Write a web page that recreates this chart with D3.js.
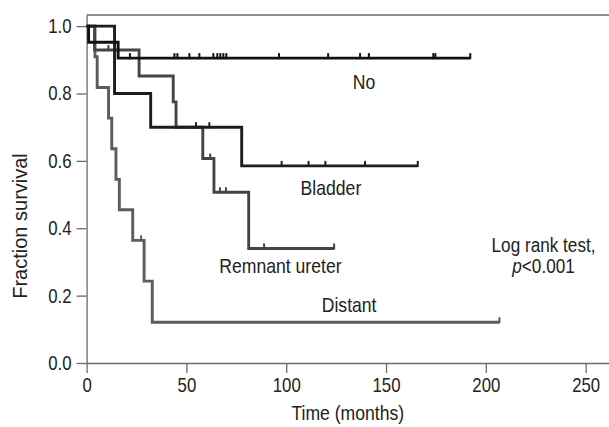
<!doctype html>
<html>
  <head>
    <meta charset="utf-8">
    <title>Fraction survival by recurrence site</title>
    <script src="https://cdnjs.cloudflare.com/ajax/libs/d3/7.8.5/d3.min.js"></script>
    <style>
      body { margin: 0; background: #fff; }
      svg text { font-family: "Liberation Sans", Arial, sans-serif; fill: #222; }
    </style>
  </head>
  <body>
    <div id="chart"></div>
    <script>
      // step times (months) and survival after each step
      const noTimes = [0, 1, 15.8];
      const noSurv = [1, 0.952, 0.905];
      const noCensor = [21.7, 44, 45.5, 51.5, 56.5, 63.5, 65.5, 67, 68.5, 70, 96.4, 121, 137, 141.4, 173.7, 174.7, 192.2];

      const bladderTimes = [0, 14, 32.1, 77.7];
      const bladderSurv = [1, 0.8, 0.7, 0.585];
      const bladderCensor = [54.8, 61.5, 97.7, 111.2, 119.6, 139.5, 165.9];

      const remnantTimes = [0, 4, 26.3, 43.4, 44.8, 58.2, 63.8, 81.2];
      const remnantSurv = [1, 0.929, 0.852, 0.775, 0.7, 0.607, 0.507, 0.34];
      const remnantCensor = [10.9, 61.9, 66.8, 69.8, 88.9, 124];

      const distantTimes = [0, 4.2, 5.3, 11, 12.6, 14.7, 16.4, 23.1, 28.8, 32.9];
      const distantSurv = [1, 0.909, 0.818, 0.727, 0.636, 0.545, 0.455, 0.364, 0.243, 0.121];
      const distantCensor = [27.3, 206.8];

      const xTicks = [0, 50, 100, 150, 200, 250];
      const yTicks = [0, 0.2, 0.4, 0.6, 0.8, 1.0];

      const groups = [
        { name: 'No', times: noTimes, surv: noSurv, censor: noCensor, color: '#111' },
        { name: 'Bladder', times: bladderTimes, surv: bladderSurv, censor: bladderCensor, color: '#1d1d1d' },
        { name: 'Remnant ureter', times: remnantTimes, surv: remnantSurv, censor: remnantCensor, color: '#444' },
        { name: 'Distant', times: distantTimes, surv: distantSurv, censor: distantCensor, color: '#5c5c5c' }
      ];

      // label anchor points in data units
      const labels = [
        { text: 'No', t: 139, s: 0.813 },
        { text: 'Bladder', t: 122.4, s: 0.499 },
        { text: 'Remnant ureter', t: 97.1, s: 0.266 },
        { text: 'Distant', t: 131.5, s: 0.152 }
      ];

      const W = 609, H = 427;
      const NARROW = 0.88; // the figure uses a condensed face
      const x = d3.scaleLinear().domain([0, 262]).range([86.6, 609.6]);
      const y = d3.scaleLinear().domain([0, 1.033]).range([363, 15]);

      const svg = d3.select('#chart').append('svg')
        .attr('width', W)
        .attr('height', H);

      // squeeze a text horizontally, keeping its anchor where it was
      function condense(sel, k) {
        sel.each(function() {
          const t = d3.select(this);
          const px = +t.attr('x') || 0, py = +t.attr('y') || 0;
          t.attr('x', 0).attr('y', 0)
            .attr('transform', `translate(${px},${py}) scale(${k},1)`);
        });
      }

      // top frame line
      svg.append('line')
        .attr('x1', x(0)).attr('x2', x(262))
        .attr('y1', y(1.033)).attr('y2', y(1.033))
        .attr('stroke', '#6a6a6a').attr('stroke-width', 1.3);

      const xAxis = svg.append('g')
        .attr('transform', `translate(0,${y(0)})`)
        .call(d3.axisBottom(x).tickValues(xTicks).tickSize(10).tickSizeOuter(0).tickPadding(5));

      const yAxis = svg.append('g')
        .attr('transform', `translate(${x(0)},0)`)
        .call(d3.axisLeft(y).tickValues(yTicks).tickFormat(d3.format('.1f')).tickSize(10).tickSizeOuter(0).tickPadding(5));

      [xAxis, yAxis].forEach(function(g) {
        g.selectAll('path, line').attr('stroke', '#6a6a6a').attr('stroke-width', 1.3);
        g.selectAll('text').attr('font-size', 20).attr('fill', '#222').call(condense, 0.84);
      });

      // survival curves
      const line = d3.line()
        .x(function(d) { return x(d[0]); })
        .y(function(d) { return y(d[1]); })
        .curve(d3.curveStepAfter);

      function survAt(g, t) {
        let s = g.surv[0];
        g.times.forEach(function(tt, i) { if (tt <= t) s = g.surv[i]; });
        return s;
      }

      // draw lighter curves first so black ones sit on top
      groups.slice().reverse().forEach(function(g) {
        const end = d3.max(g.censor);
        const pts = g.times.map(function(t, i) { return [t, g.surv[i]]; });
        pts.push([end, g.surv[g.surv.length - 1]]);

        svg.append('path')
          .datum(pts)
          .attr('d', line)
          .attr('fill', 'none')
          .attr('stroke', g.color)
          .attr('stroke-width', 2.9)
          .attr('stroke-linejoin', 'miter');

        svg.append('g')
          .selectAll('line')
          .data(g.censor)
          .join('line')
          .attr('x1', function(d) { return x(d); })
          .attr('x2', function(d) { return x(d); })
          .attr('y1', function(d) { return y(survAt(g, d)) + 1; })
          .attr('y2', function(d) { return y(survAt(g, d)) - 5; })
          .attr('stroke', g.color)
          .attr('stroke-width', 2);
      });

      svg.append('g')
        .selectAll('text')
        .data(labels)
        .join('text')
        .attr('x', function(d) { return x(d.t); })
        .attr('y', function(d) { return y(d.s); })
        .attr('text-anchor', 'middle')
        .attr('font-size', 20)
        .text(function(d) { return d.text; })
        .call(condense, NARROW);

      // log rank note
      svg.append('text')
        .attr('x', x(228.9)).attr('y', y(0.33))
        .attr('text-anchor', 'middle')
        .attr('font-size', 19.5)
        .text('Log rank test,')
        .call(condense, NARROW);
      const pNote = svg.append('text')
        .attr('x', x(228.9)).attr('y', y(0.268))
        .attr('text-anchor', 'middle')
        .attr('font-size', 19.5);
      pNote.append('tspan').attr('font-style', 'italic').text('p');
      pNote.append('tspan').text('<0.001');
      pNote.call(condense, NARROW);

      // axis titles
      svg.append('text')
        .attr('x', (x(0) + W) / 2)
        .attr('y', 420)
        .attr('text-anchor', 'middle')
        .attr('font-size', 20)
        .text('Time (months)')
        .call(condense, NARROW);

      svg.append('text')
        .attr('transform', `translate(27,226) rotate(-90)`)
        .attr('text-anchor', 'middle')
        .attr('font-size', 20)
        .text('Fraction survival');
    </script>
  </body>
</html>
